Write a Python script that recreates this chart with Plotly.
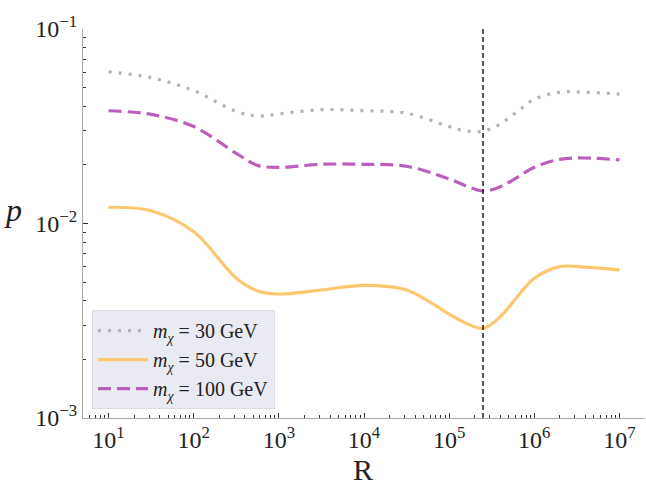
import plotly.graph_objects as go

# ---- data ----
R = [1e1, 10**1.5, 1e2, 10**2.5, 10**2.75, 1e3, 10**3.5, 1e4, 10**4.5, 1e5,
     10**5.2, 10**5.4, 10**5.6, 10**5.8, 1e6, 10**6.3, 10**6.6, 1e7]
p_30 = [0.0603, 0.0562, 0.0482, 0.0377, 0.0357, 0.0366, 0.0385, 0.0380, 0.0369, 0.0315,
        0.0299, 0.0298, 0.0325, 0.0376, 0.0435, 0.0474, 0.0473, 0.0463]
p_50 = [0.01212, 0.01163, 0.00907, 0.00523, 0.00450, 0.00434, 0.00455, 0.00481, 0.00455, 0.00342,
        0.00307, 0.00289, 0.00332, 0.00420, 0.00523, 0.00600, 0.00596, 0.00577]
p_100 = [0.0380, 0.0364, 0.0315, 0.02296, 0.0199, 0.01945, 0.02016, 0.02016, 0.01969, 0.01694,
         0.01559, 0.01469, 0.01546, 0.01728, 0.01945, 0.02138, 0.02172, 0.02121]
R_line = 2.5e5
names = ["<i>m</i><sub><i>χ</i></sub> = 30 GeV",
         "<i>m</i><sub><i>χ</i></sub> = 50 GeV",
         "<i>m</i><sub><i>χ</i></sub> = 100 GeV"]
x_ticks = [1e1, 1e2, 1e3, 1e4, 1e5, 1e6, 1e7]
x_ticktext = ["10<sup>%d</sup>" % k for k in range(1, 8)]
y_ticks = [1e-3, 1e-2, 1e-1]
y_ticktext = ["10<sup>−3</sup>", "10<sup>−2</sup>", "10<sup>−1</sup>"]

FONT = "Liberation Serif"
x_minor = [m * 10**e for e in range(0, 8) for m in range(2, 10)]
y_minor = [m * 10.0**e for e in range(-4, 0) for m in range(2, 10)]

fig = go.Figure()
fig.add_trace(go.Scatter(x=R, y=p_30, mode="lines", name=names[0], line_shape="spline",
                         line=dict(color="#b3b3b3", width=3.2, dash="3px,7px")))
fig.add_trace(go.Scatter(x=R, y=p_50, mode="lines", name=names[1], line_shape="spline",
                         line=dict(color="#fec66f", width=3.2)))
fig.add_trace(go.Scatter(x=R, y=p_100, mode="lines", name=names[2], line_shape="spline",
                         line=dict(color="#bb5fbb", width=3.2, dash="13px,6px")))

fig.add_shape(type="line", xref="x", yref="paper", x0=R_line, x1=R_line, y0=0, y1=1,
              line=dict(color="black", width=1.3, dash="5px,3px"))

axis_common = dict(type="log", showgrid=False, zeroline=False, showline=True,
                   linecolor="#a8a8a8", linewidth=1.2, ticks="inside", ticklen=5,
                   tickwidth=1.3, tickcolor="#333333", tickmode="array",
                   tickfont=dict(family=FONT, size=24, color="#222222"))

fig.update_xaxes(**axis_common, range=[0.7, 7.3], tickvals=x_ticks, ticktext=x_ticktext,
                 minor=dict(tickmode="array", tickvals=x_minor, ticks="inside", ticklen=2.5,
                            tickwidth=1, tickcolor="#333333", showgrid=False))
fig.update_yaxes(**axis_common, range=[-3, -1], tickvals=y_ticks, ticktext=y_ticktext,
                 minor=dict(tickmode="array", tickvals=y_minor, ticks="inside", ticklen=2.5,
                            tickwidth=1, tickcolor="#333333", showgrid=False))

fig.add_annotation(text="<i>p</i>", xref="paper", yref="paper", x=-0.145, y=0.535,
                   showarrow=False, font=dict(family=FONT, size=32, color="#222222"))
fig.add_annotation(text="R", xref="paper", yref="paper", x=0.498, y=-0.132, yanchor="middle",
                   showarrow=False, font=dict(family=FONT, size=30, color="#222222"))

fig.update_layout(
    width=646, height=487,
    margin=dict(l=83, r=1, t=29, b=69),
    paper_bgcolor="white", plot_bgcolor="white",
    font=dict(family=FONT, color="#222222"),
    showlegend=True,
    legend=dict(x=0.016, y=0.023, xanchor="left", yanchor="bottom",
                bgcolor="#eaeaf2", bordercolor="#dcdce4", borderwidth=1,
                font=dict(family=FONT, size=20, color="#222222"),
                tracegroupgap=0, itemwidth=50),
)

fig.write_html("out.html")
